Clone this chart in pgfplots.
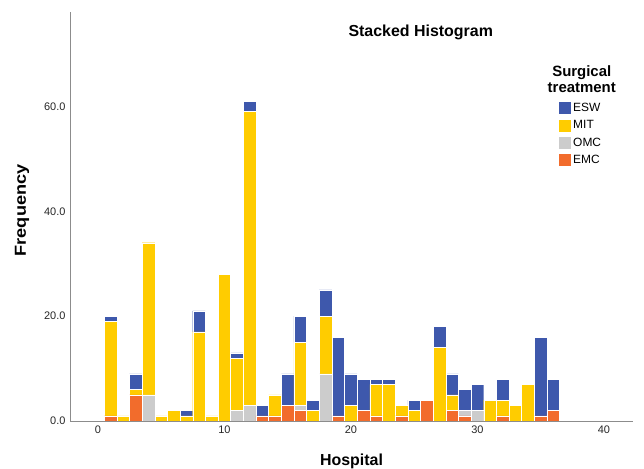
\documentclass[border=0pt]{standalone}
\usepackage{fontspec}
\setmainfont{Liberation Sans}
\usepackage{pgfplots}
\usepackage{pgfplotstable}
\pgfplotsset{compat=1.18}
\definecolor{cESW}{RGB}{62,88,172}
\definecolor{cMIT}{RGB}{255,204,0}
\definecolor{cOMC}{RGB}{204,204,204}
\definecolor{cEMC}{RGB}{242,108,44}
\definecolor{axgray}{RGB}{140,140,140}
\pgfplotstableread{
x  EMC OMC MIT ESW
1  1 0 18 1
2  0 0 1 0
3  5 0 1 3
4  0 5 29 0
5  0 0 1 0
6  0 0 2 0
7  0 0 1 1
8  0 0 17 4
9  0 0 1 0
10 0 0 28 0
11 0 2 10 1
12 0 3 56 2
13 1 0 0 2
14 1 0 4 0
15 3 0 0 6
16 2 1 12 5
17 0 0 2 2
18 0 9 11 5
19 1 0 0 15
20 0 0 3 6
21 2 0 0 6
22 1 0 6 1
23 0 0 7 1
24 1 0 2 0
25 0 0 2 2
26 4 0 0 0
27 0 0 14 4
28 2 0 3 4
29 1 1 0 4
30 0 2 0 5
31 0 0 4 0
32 1 0 3 4
33 0 0 3 0
34 0 0 7 0
35 1 0 0 15
36 2 0 0 6
}\datatable
\begin{document}
\begin{tikzpicture}
\useasboundingbox (0bp,0bp) rectangle (644bp,469bp);
\begin{axis}[
  at={(70bp,48bp)}, anchor=south west,
  scale only axis, width=563bp, height=409bp,
  xmin=-2.2, xmax=42.3, ymin=0, ymax=78,
  axis x line=bottom, axis y line=left,
  axis line style={-, draw=axgray, line width=0.8bp},
  axis on top,
  ybar stacked, bar width=1,
  xtick={0,10,20,30,40}, ytick={0,20,40,60},
  major tick length=0pt,
  /pgf/number format/assume math mode=true,
  yticklabel style={/pgf/number format/fixed, /pgf/number format/fixed zerofill, /pgf/number format/precision=1, font=\fontsize{11}{13}\selectfont, text=black!85, xshift=-1bp},
  xticklabel style={font=\fontsize{11}{13}\selectfont, text=black!85, yshift=-1bp},
  xlabel={\textbf{Hospital}}, ylabel={\scalebox{1.14}[1]{\textbf{Frequency}}},
  xlabel style={font=\fontsize{16}{18}\selectfont, at={(axis description cs:0.5,-0.098)}, anchor=center},
  ylabel style={font=\fontsize{16}{18}\selectfont, at={(axis description cs:-0.085,0.515)}, anchor=center},
  every axis plot/.append style={draw=white, line width=0.4bp},
  reverse legend,
  legend style={at={(rel axis cs:0.8686,0.782)}, anchor=north west, draw=none, fill=none, inner sep=0pt,
    font=\fontsize{12}{14}\selectfont, row sep=3.5bp, cells={anchor=west}},
  legend image code/.code={\fill[#1, draw=none] (0bp,-6bp) rectangle (12bp,6bp);},
]
\addplot[fill=cEMC] table[x=x, y=EMC] {\datatable};
\addplot[fill=cOMC] table[x=x, y=OMC] {\datatable};
\addplot[fill=cMIT] table[x=x, y=MIT] {\datatable};
\addplot[fill=cESW] table[x=x, y=ESW] {\datatable};
\legend{EMC, OMC, MIT, ESW}
\node[font=\fontsize{16}{18}\selectfont\bfseries] at (axis description cs:0.623,0.951) {Stacked Histogram};
\node[font=\fontsize{15}{16}\selectfont\bfseries, align=center] at (axis description cs:0.909,0.836) {Surgical\\treatment};
\end{axis}
\end{tikzpicture}
\end{document}
